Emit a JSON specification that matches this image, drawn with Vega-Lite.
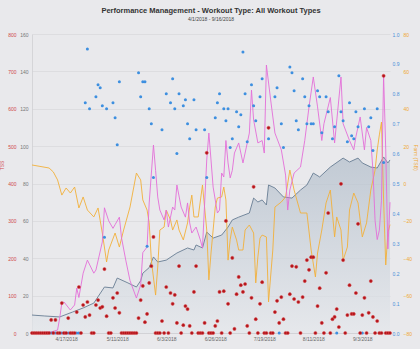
{
"$schema": "https://vega.github.io/schema/vega-lite/v6.json",
"width": 358, "height": 299,
"autosize": {"type": "none"},
"padding": {"left": 32, "top": 34, "right": 30, "bottom": 16},
"background": "#e9e9ec",
"config": {"view": {"stroke": null}, "font": "Liberation Sans",
  "axis": {"labelFont": "Liberation Sans", "labelFontSize": 5, "titleFont": "Liberation Sans", "titleFontSize": 5, "titleFontWeight": "normal", "ticks": false, "tickSize": 0, "domain": false, "grid": false}},
"title": {"text": "Performance Management - Workout Type: All Workout Types", "subtitle": "4/1/2018 - 9/16/2018", "fontSize": 7.5, "fontWeight": "bold", "color": "#333333", "subtitleFontSize": 5, "subtitleColor": "#444444", "subtitlePadding": 3, "offset": 10, "anchor": "middle", "font": "Liberation Sans", "subtitleFont": "Liberation Sans"},
"datasets": {
"ctl": [
{"date":"2018-04-01","v":9.6},{"date":"2018-04-07","v":9.1},{"date":"2018-04-14","v":8.6},{"date":"2018-04-20","v":11.2},{"date":"2018-04-25","v":13.4},{"date":"2018-04-30","v":16.0},{"date":"2018-05-05","v":24.6},{"date":"2018-05-09","v":24.1},{"date":"2018-05-11","v":29.4},{"date":"2018-05-16","v":26.8},{"date":"2018-05-20","v":24.6},{"date":"2018-05-22","v":28},{"date":"2018-05-23","v":32},{"date":"2018-05-26","v":35},{"date":"2018-05-28","v":40.7},{"date":"2018-05-30","v":38},{"date":"2018-06-03","v":39},{"date":"2018-06-08","v":42.8},{"date":"2018-06-13","v":45.5},{"date":"2018-06-16","v":44.4},{"date":"2018-06-17","v":47.1},{"date":"2018-06-20","v":45.5},{"date":"2018-06-22","v":54},{"date":"2018-06-25","v":50.8},{"date":"2018-06-29","v":52.4},{"date":"2018-07-02","v":56.7},{"date":"2018-07-04","v":60.5},{"date":"2018-07-07","v":62},{"date":"2018-07-12","v":64.2},{"date":"2018-07-14","v":72.2},{"date":"2018-07-16","v":70.1},{"date":"2018-07-18","v":71.2},{"date":"2018-07-20","v":68.5},{"date":"2018-07-21","v":79.2},{"date":"2018-07-24","v":77.6},{"date":"2018-07-28","v":72.8},{"date":"2018-08-01","v":72.2},{"date":"2018-08-05","v":76.5},{"date":"2018-08-08","v":79.2},{"date":"2018-08-11","v":85.6},{"date":"2018-08-14","v":83.5},{"date":"2018-08-19","v":88.8},{"date":"2018-08-25","v":93.6},{"date":"2018-08-28","v":91.5},{"date":"2018-09-01","v":93.6},{"date":"2018-09-03","v":91.0},{"date":"2018-09-07","v":88.8},{"date":"2018-09-10","v":88.3},{"date":"2018-09-13","v":94.2},{"date":"2018-09-15","v":91.0},{"date":"2018-09-16","v":92.6}
],
"atl": [
{"date":"2018-04-01","v":0},{"date":"2018-04-10","v":0.5},{"date":"2018-04-13","v":1.6},{"date":"2018-04-14","v":8},{"date":"2018-04-15","v":16},{"date":"2018-04-16","v":16.6},{"date":"2018-04-19","v":12.3},{"date":"2018-04-21","v":15},{"date":"2018-04-22","v":24},{"date":"2018-04-23","v":19},{"date":"2018-04-25","v":32},{"date":"2018-04-27","v":39},{"date":"2018-04-30","v":32},{"date":"2018-05-01","v":33.7},{"date":"2018-05-04","v":48.7},{"date":"2018-05-05","v":67},{"date":"2018-05-07","v":60},{"date":"2018-05-09","v":56},{"date":"2018-05-10","v":58},{"date":"2018-05-12","v":62},{"date":"2018-05-13","v":51},{"date":"2018-05-15","v":39},{"date":"2018-05-17","v":28},{"date":"2018-05-20","v":18.7},{"date":"2018-05-22","v":25.7},{"date":"2018-05-23","v":43},{"date":"2018-05-25","v":46},{"date":"2018-05-26","v":69.6},{"date":"2018-05-28","v":100.6},{"date":"2018-05-29","v":87},{"date":"2018-05-30","v":72.8},{"date":"2018-05-31","v":65.8},{"date":"2018-06-02","v":60.5},{"date":"2018-06-03","v":65.8},{"date":"2018-06-04","v":56.7},{"date":"2018-06-05","v":62},{"date":"2018-06-06","v":67.4},{"date":"2018-06-07","v":65.8},{"date":"2018-06-08","v":79.2},{"date":"2018-06-10","v":67.4},{"date":"2018-06-12","v":62},{"date":"2018-06-13","v":69.6},{"date":"2018-06-14","v":58.9},{"date":"2018-06-15","v":53.5},{"date":"2018-06-17","v":56.7},{"date":"2018-06-19","v":49.8},{"date":"2018-06-20","v":45.5},{"date":"2018-06-22","v":92.6},{"date":"2018-06-23","v":107},{"date":"2018-06-24","v":92.6},{"date":"2018-06-25","v":78.1},{"date":"2018-06-27","v":64.2},{"date":"2018-06-28","v":65.8},{"date":"2018-06-29","v":85.6},{"date":"2018-06-30","v":83.5},{"date":"2018-07-01","v":103},{"date":"2018-07-02","v":91},{"date":"2018-07-03","v":83},{"date":"2018-07-04","v":87},{"date":"2018-07-05","v":96.3},{"date":"2018-07-07","v":101.7},{"date":"2018-07-09","v":91},{"date":"2018-07-10","v":96.3},{"date":"2018-07-12","v":107},{"date":"2018-07-13","v":130},{"date":"2018-07-14","v":114},{"date":"2018-07-16","v":101.7},{"date":"2018-07-18","v":103},{"date":"2018-07-19","v":96.3},{"date":"2018-07-20","v":143.4},{"date":"2018-07-22","v":124.7},{"date":"2018-07-24","v":107},{"date":"2018-07-27","v":98},{"date":"2018-07-29","v":84.5},{"date":"2018-07-30","v":65.8},{"date":"2018-07-31","v":76.5},{"date":"2018-08-02","v":85.6},{"date":"2018-08-05","v":88.8},{"date":"2018-08-07","v":103},{"date":"2018-08-09","v":121},{"date":"2018-08-11","v":137},{"date":"2018-08-13","v":121},{"date":"2018-08-15","v":103},{"date":"2018-08-16","v":112},{"date":"2018-08-19","v":126},{"date":"2018-08-21","v":101.7},{"date":"2018-08-24","v":137},{"date":"2018-08-25","v":112},{"date":"2018-08-28","v":103},{"date":"2018-08-30","v":98},{"date":"2018-08-31","v":105},{"date":"2018-09-02","v":115.6},{"date":"2018-09-04","v":98},{"date":"2018-09-05","v":110},{"date":"2018-09-07","v":103},{"date":"2018-09-08","v":87},{"date":"2018-09-09","v":60},{"date":"2018-09-10","v":50},{"date":"2018-09-11","v":55},{"date":"2018-09-12","v":71},{"date":"2018-09-13","v":138},{"date":"2018-09-14","v":98},{"date":"2018-09-15","v":45},{"date":"2018-09-16","v":70}
],
"tsb": [
{"date":"2018-04-01","v":9.9},{"date":"2018-04-09","v":8.3},{"date":"2018-04-11","v":6.2},{"date":"2018-04-13","v":1.9},{"date":"2018-04-15","v":-6.2},{"date":"2018-04-17","v":-2.4},{"date":"2018-04-19","v":-5.1},{"date":"2018-04-21","v":-1.9},{"date":"2018-04-23","v":-13.1},{"date":"2018-04-25","v":-7.2},{"date":"2018-04-27","v":-14.2},{"date":"2018-04-30","v":-17.9},{"date":"2018-05-02","v":-13.1},{"date":"2018-05-04","v":-26.5},{"date":"2018-05-06","v":-42},{"date":"2018-05-07","v":-35.6},{"date":"2018-05-10","v":-26.5},{"date":"2018-05-12","v":-34},{"date":"2018-05-14","v":-24.9},{"date":"2018-05-17","v":-12.6},{"date":"2018-05-20","v":5.6},{"date":"2018-05-22","v":1.9},{"date":"2018-05-23","v":-8.8},{"date":"2018-05-25","v":-14.2},{"date":"2018-05-26","v":-21},{"date":"2018-05-27","v":-41},{"date":"2018-05-29","v":-59.7},{"date":"2018-05-30","v":-44.7},{"date":"2018-05-31","v":-24.9},{"date":"2018-06-02","v":-23.3},{"date":"2018-06-03","v":-14.2},{"date":"2018-06-05","v":-19.5},{"date":"2018-06-06","v":-24.9},{"date":"2018-06-08","v":-19.5},{"date":"2018-06-09","v":-24.9},{"date":"2018-06-11","v":-30.2},{"date":"2018-06-13","v":-21.1},{"date":"2018-06-14","v":-12.6},{"date":"2018-06-15","v":-6.2},{"date":"2018-06-16","v":-17.9},{"date":"2018-06-18","v":-17.9},{"date":"2018-06-20","v":-0.8},{"date":"2018-06-22","v":-24.9},{"date":"2018-06-23","v":-51.6},{"date":"2018-06-24","v":-37.2},{"date":"2018-06-26","v":-12.6},{"date":"2018-06-27","v":-7.8},{"date":"2018-06-29","v":-7.2},{"date":"2018-06-30","v":-1.9},{"date":"2018-07-01","v":-8.8},{"date":"2018-07-02","v":-41},{"date":"2018-07-03","v":-30},{"date":"2018-07-04","v":-23.3},{"date":"2018-07-06","v":-30.2},{"date":"2018-07-07","v":-35.6},{"date":"2018-07-09","v":-35.6},{"date":"2018-07-10","v":-24.9},{"date":"2018-07-12","v":-22.2},{"date":"2018-07-14","v":-26.5},{"date":"2018-07-15","v":-53.2},{"date":"2018-07-16","v":-39.3},{"date":"2018-07-17","v":-29.2},{"date":"2018-07-18","v":-27.6},{"date":"2018-07-20","v":-28.6},{"date":"2018-07-21","v":-63.4},{"date":"2018-07-23","v":-35.6},{"date":"2018-07-24","v":-12.6},{"date":"2018-07-27","v":-9.9},{"date":"2018-07-29","v":-7.2},{"date":"2018-07-31","v":7.2},{"date":"2018-08-02","v":-3.5},{"date":"2018-08-05","v":-15.8},{"date":"2018-08-08","v":-15.8},{"date":"2018-08-10","v":-35.6},{"date":"2018-08-12","v":-50},{"date":"2018-08-13","v":-37.2},{"date":"2018-08-15","v":-24.9},{"date":"2018-08-17","v":-10.4},{"date":"2018-08-19","v":-3.5},{"date":"2018-08-21","v":-28.6},{"date":"2018-08-22","v":-17.9},{"date":"2018-08-24","v":-24.9},{"date":"2018-08-25","v":-41},{"date":"2018-08-27","v":-34},{"date":"2018-08-28","v":-14.2},{"date":"2018-08-30","v":-5.1},{"date":"2018-09-01","v":-10.4},{"date":"2018-09-03","v":-28.6},{"date":"2018-09-05","v":-21.1},{"date":"2018-09-07","v":-3.5},{"date":"2018-09-09","v":7.2},{"date":"2018-09-10","v":17.9},{"date":"2018-09-11","v":26},{"date":"2018-09-12","v":32.9},{"date":"2018-09-13","v":-8.8},{"date":"2018-09-14","v":-43.6},{"date":"2018-09-15","v":-26.5},{"date":"2018-09-16","v":-22}
],
"daily": [
{"date":"2018-04-01","tss":0},{"date":"2018-04-02","tss":0},{"date":"2018-04-03","tss":0},{"date":"2018-04-04","tss":0},{"date":"2018-04-05","tss":0},{"date":"2018-04-06","tss":0},{"date":"2018-04-07","tss":0},{"date":"2018-04-08","tss":0},{"date":"2018-04-09","tss":0},{"date":"2018-04-10","tss":35,"intensity":0},{"date":"2018-04-11","tss":0},{"date":"2018-04-12","tss":35,"intensity":0},{"date":"2018-04-13","tss":0},{"date":"2018-04-14","tss":0},{"date":"2018-04-15","tss":80,"intensity":0},{"date":"2018-04-16","tss":0},{"date":"2018-04-17","tss":0},{"date":"2018-04-18","tss":40,"intensity":0},{"date":"2018-04-19","tss":0},{"date":"2018-04-20","tss":0},{"date":"2018-04-21","tss":0},{"date":"2018-04-22","tss":56,"intensity":0},{"date":"2018-04-23","tss":123,"intensity":0},{"date":"2018-04-24","tss":0},{"date":"2018-04-25","tss":75},{"date":"2018-04-26","tss":43,"intensity":0.77},{"date":"2018-04-27","tss":83,"intensity":0.95},{"date":"2018-04-28","tss":48,"intensity":0.75},{"date":"2018-04-29","tss":0},{"date":"2018-04-30","tss":0},
{"date":"2018-05-01","tss":75,"intensity":0.79},{"date":"2018-05-02","tss":88,"intensity":0.83},{"date":"2018-05-03","tss":67,"intensity":0.82},{"date":"2018-05-04","tss":70,"intensity":0.76},{"date":"2018-05-05","tss":171,"intensity":0.32},{"date":"2018-05-06","tss":45,"intensity":0.75},{"date":"2018-05-07","tss":0},{"date":"2018-05-08","tss":0},{"date":"2018-05-09","tss":94,"intensity":0.77},{"date":"2018-05-10","tss":67,"intensity":0.72},{"date":"2018-05-11","tss":107,"intensity":0.63},{"date":"2018-05-12","tss":54,"intensity":0.84},{"date":"2018-05-13","tss":0},{"date":"2018-05-14","tss":0},{"date":"2018-05-15","tss":0},{"date":"2018-05-16","tss":0},{"date":"2018-05-17","tss":0},{"date":"2018-05-18","tss":0},{"date":"2018-05-19","tss":0},{"date":"2018-05-20","tss":0},{"date":"2018-05-21","tss":40,"intensity":0.87},{"date":"2018-05-22","tss":88,"intensity":0.79},{"date":"2018-05-23","tss":126,"intensity":0.84},{"date":"2018-05-24","tss":29,"intensity":0.84},{"date":"2018-05-25","tss":51,"intensity":0.29},{"date":"2018-05-26","tss":134,"intensity":0.75},{"date":"2018-05-27","tss":179,"intensity":0.70},{"date":"2018-05-28","tss":257,"intensity":0.52},{"date":"2018-05-29","tss":0},{"date":"2018-05-30","tss":0},{"date":"2018-05-31","tss":0},
{"date":"2018-06-01","tss":32,"intensity":0.68},{"date":"2018-06-02","tss":0},{"date":"2018-06-03","tss":123,"intensity":0.80},{"date":"2018-06-04","tss":0},{"date":"2018-06-05","tss":107,"intensity":0.77},{"date":"2018-06-06","tss":78,"intensity":0.85},{"date":"2018-06-07","tss":102,"intensity":0.75},{"date":"2018-06-08","tss":27,"intensity":0.60},{"date":"2018-06-09","tss":179,"intensity":0.80},{"date":"2018-06-10","tss":0},{"date":"2018-06-11","tss":21,"intensity":0.76},{"date":"2018-06-12","tss":72,"intensity":0.78},{"date":"2018-06-13","tss":64,"intensity":0.70},{"date":"2018-06-14","tss":19,"intensity":0.65},{"date":"2018-06-15","tss":0},{"date":"2018-06-16","tss":110,"intensity":0.78},{"date":"2018-06-17","tss":179,"intensity":0.68},{"date":"2018-06-18","tss":0},{"date":"2018-06-19","tss":0},{"date":"2018-06-20","tss":0},{"date":"2018-06-21","tss":27,"intensity":0.68},{"date":"2018-06-22","tss":482,"intensity":0.52},{"date":"2018-06-23","tss":0},{"date":"2018-06-24","tss":0},{"date":"2018-06-25","tss":0},{"date":"2018-06-26","tss":19,"intensity":0.72},{"date":"2018-06-27","tss":32,"intensity":0.77},{"date":"2018-06-28","tss":110,"intensity":0.80},{"date":"2018-06-29","tss":0},{"date":"2018-06-30","tss":112,"intensity":0.75},
{"date":"2018-07-01","tss":300,"intensity":0.71},{"date":"2018-07-02","tss":78,"intensity":0.75},{"date":"2018-07-03","tss":0,"intensity":0.62},{"date":"2018-07-04","tss":201,"intensity":0.65},{"date":"2018-07-05","tss":11},{"date":"2018-07-06","tss":104,"intensity":0.74},{"date":"2018-07-07","tss":150,"intensity":0.69},{"date":"2018-07-08","tss":128,"intensity":0.73},{"date":"2018-07-09","tss":110,"intensity":0.94},{"date":"2018-07-10","tss":131,"intensity":0.80},{"date":"2018-07-11","tss":19,"intensity":0.64},{"date":"2018-07-12","tss":0},{"date":"2018-07-13","tss":94,"intensity":0.83},{"date":"2018-07-14","tss":391,"intensity":0.76},{"date":"2018-07-15","tss":37,"intensity":0.71},{"date":"2018-07-16","tss":0},{"date":"2018-07-17","tss":78,"intensity":0.79},{"date":"2018-07-18","tss":136,"intensity":0.85},{"date":"2018-07-19","tss":0},{"date":"2018-07-20","tss":0},{"date":"2018-07-21","tss":549,"intensity":0.65},{"date":"2018-07-22","tss":0},{"date":"2018-07-23","tss":0},{"date":"2018-07-24","tss":56,"intensity":0.79},{"date":"2018-07-25","tss":86,"intensity":0.82},{"date":"2018-07-26","tss":27,"intensity":0},{"date":"2018-07-27","tss":96,"intensity":0.70},{"date":"2018-07-28","tss":37,"intensity":0.62},{"date":"2018-07-29","tss":0},{"date":"2018-07-30","tss":0},{"date":"2018-07-31","tss":104,"intensity":0.89},
{"date":"2018-08-01","tss":179,"intensity":0.87},{"date":"2018-08-02","tss":91,"intensity":0.81},{"date":"2018-08-03","tss":177,"intensity":0.71},{"date":"2018-08-04","tss":83,"intensity":0.68},{"date":"2018-08-05","tss":0},{"date":"2018-08-06","tss":96,"intensity":0.85},{"date":"2018-08-07","tss":139,"intensity":0.79},{"date":"2018-08-08","tss":195,"intensity":0.70},{"date":"2018-08-09","tss":169,"intensity":0.76},{"date":"2018-08-10","tss":203,"intensity":0.70},{"date":"2018-08-11","tss":203,"intensity":0.70},{"date":"2018-08-12","tss":0},{"date":"2018-08-13","tss":72,"intensity":0.81},{"date":"2018-08-14","tss":120,"intensity":0.79},{"date":"2018-08-15","tss":27,"intensity":0.67},{"date":"2018-08-16","tss":0},{"date":"2018-08-17","tss":161,"intensity":0.79},{"date":"2018-08-18","tss":321,"intensity":0.74},{"date":"2018-08-19","tss":0},{"date":"2018-08-20","tss":37,"intensity":0.65},{"date":"2018-08-21","tss":43,"intensity":0.69},{"date":"2018-08-22","tss":64,"intensity":0},{"date":"2018-08-23","tss":16,"intensity":0.86},{"date":"2018-08-24","tss":399,"intensity":0.74},{"date":"2018-08-25","tss":195,"intensity":0.71},{"date":"2018-08-26","tss":0},{"date":"2018-08-27","tss":48,"intensity":0.64},{"date":"2018-08-28","tss":128,"intensity":0.77},{"date":"2018-08-29","tss":51,"intensity":0.66},{"date":"2018-08-30","tss":51,"intensity":0.65},{"date":"2018-08-31","tss":107,"intensity":0.74},
{"date":"2018-09-01","tss":292,"intensity":0.69},{"date":"2018-09-02","tss":0},{"date":"2018-09-03","tss":48,"intensity":0},{"date":"2018-09-04","tss":94,"intensity":0.75},{"date":"2018-09-05","tss":0},{"date":"2018-09-06","tss":54,"intensity":0.69},{"date":"2018-09-07","tss":139,"intensity":0.72},{"date":"2018-09-08","tss":43,"intensity":0.61},{"date":"2018-09-09","tss":0},{"date":"2018-09-10","tss":32,"intensity":0.75},{"date":"2018-09-11","tss":0},{"date":"2018-09-12","tss":0},{"date":"2018-09-13","tss":688,"intensity":0.57},{"date":"2018-09-14","tss":0},{"date":"2018-09-15","tss":0},{"date":"2018-09-16","tss":0}
]
},
"encoding": {
  "x": {"field": "date", "type": "temporal",
    "scale": {"domain": [{"year": 2018, "month": 4, "date": 1}, {"year": 2018, "month": 9, "date": 16}], "nice": false},
    "axis": {"title": null, "format": "%-m/%-d/%Y", "labelColor": "#666666", "labelPadding": 3, "labelFlush": false, "domain": true, "domainColor": "#cfcfd3", "domainWidth": 0.8,
      "values": [{"year": 2018, "month": 4, "date": 17}, {"year": 2018, "month": 5, "date": 11}, {"year": 2018, "month": 6, "date": 3}, {"year": 2018, "month": 6, "date": 26}, {"year": 2018, "month": 7, "date": 19}, {"year": 2018, "month": 8, "date": 11}, {"year": 2018, "month": 9, "date": 3}]}}
},
"layer": [
  {"data": {"name": "ctl"},
   "mark": {"type": "area", "interpolate": "linear", "line": {"color": "#687d93", "strokeWidth": 0.9},
     "color": {"gradient": "linear", "x1": 0, "y1": 0, "x2": 0, "y2": 1, "stops": [{"offset": 0, "color": "#b1bdca"}, {"offset": 1, "color": "#e4e7eb"}]}},
   "encoding": {"y": {"field": "v", "type": "quantitative", "scale": {"domain": [0, 160], "nice": false},
     "axis": {"orient": "left", "offset": 0, "values": [0, 20, 40, 60, 80, 100, 120, 140, 160], "labelColor": "#777777", "labelPadding": 4, "domain": true, "domainColor": "#cfcfd3", "domainWidth": 0.8, "grid": true, "gridColor": "#d9d9dd", "gridWidth": 0.8, "title": null}}}},
  {"data": {"name": "tsb"},
   "mark": {"type": "line", "color": "#f2b03a", "strokeWidth": 0.9},
   "encoding": {"y": {"field": "v", "type": "quantitative", "scale": {"domain": [-80, 80], "nice": false},
     "axis": {"orient": "right", "offset": 11, "values": [-80, -60, -40, -20, 0, 20, 40, 60, 80], "labelColor": "#f0a830", "labelPadding": 2, "title": "Form (TSB)", "titleColor": "#f0a830", "titlePadding": 1, "titleY": 123}}}},
  {"data": {"name": "atl"},
   "mark": {"type": "line", "color": "#e36ed8", "strokeWidth": 0.9},
   "encoding": {"y": {"field": "v", "type": "quantitative", "scale": {"domain": [0, 160], "nice": false}, "axis": null}}},
  {"data": {"name": "daily"},
   "mark": {"type": "circle", "size": 9, "color": "#3d8fe0", "opacity": 1},
   "encoding": {"y": {"field": "intensity", "type": "quantitative", "scale": {"domain": [0, 1], "nice": false},
     "axis": {"orient": "right", "offset": 0, "values": [0, 0.1, 0.2, 0.3, 0.4, 0.5, 0.6, 0.7, 0.8, 0.9, 1], "format": ".1f", "labelColor": "#4a90d9", "labelPadding": 2, "title": null}}}},
  {"data": {"name": "daily"},
   "mark": {"type": "circle", "size": 10, "color": "#b3141b", "stroke": "#d94545", "strokeWidth": 0.5, "opacity": 1},
   "encoding": {"y": {"field": "tss", "type": "quantitative", "scale": {"domain": [0, 800], "nice": false},
     "axis": {"orient": "left", "offset": 14, "values": [0, 100, 200, 300, 400, 500, 600, 700, 800], "labelColor": "#d04848", "labelPadding": 2, "title": "TSS", "titleColor": "#d04848", "titlePadding": 3, "titleY": 131}}}}
],
"resolve": {"scale": {"y": "independent"}}
}
